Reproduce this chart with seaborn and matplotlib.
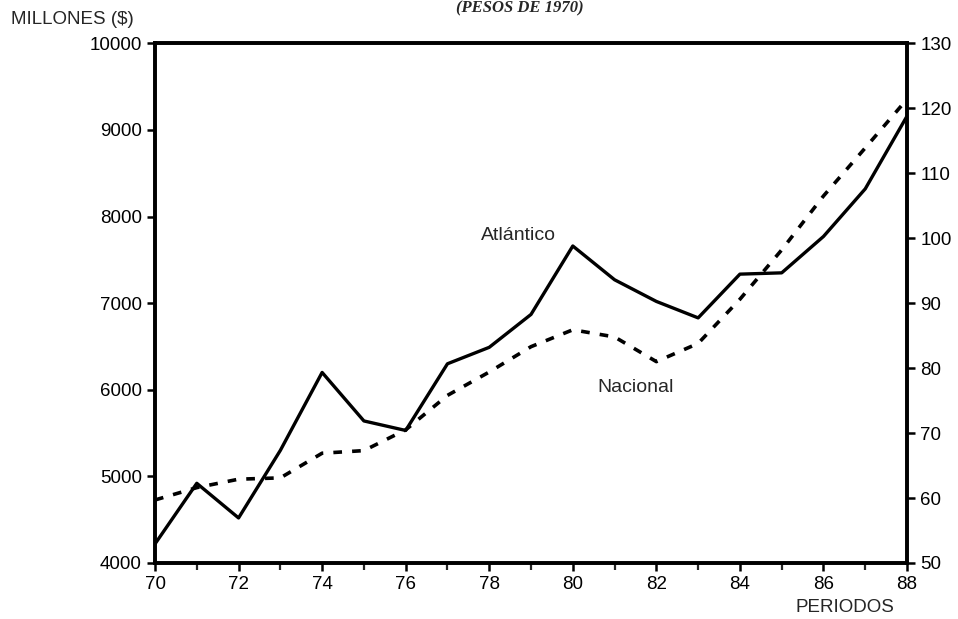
import numpy as np
import pandas as pd
import matplotlib
matplotlib.use("Agg")
import matplotlib.pyplot as plt
from matplotlib.ticker import MultipleLocator
import seaborn as sns

# Data (annual, 1970-1988)
periodos = list(range(70, 89))
atlantico = [4220, 4920, 4520, 5300, 6200, 5640, 5530, 6300, 6490, 6870,
             7660, 7270, 7020, 6830, 7335, 7350, 7770, 8320, 9160]   # millones ($), eje izquierdo
nacional = [59.7, 61.6, 62.9, 63.1, 66.9, 67.3, 70.5, 75.8, 79.4, 83.3,
            85.9, 84.8, 81.0, 83.8, 90.6, 98.2, 106.5, 113.9, 121.4]  # eje derecho

left_ticks = [4000, 5000, 6000, 7000, 8000, 9000, 10000]
right_ticks = [50, 60, 70, 80, 90, 100, 110, 120, 130]
x_ticks = [70, 72, 74, 76, 78, 80, 82, 84, 86, 88]

df = pd.DataFrame({"periodo": periodos, "atlantico": atlantico, "nacional": nacional})

sns.set_style("ticks")
plt.rcParams["font.family"] = ["Liberation Sans", "DejaVu Sans"]

fig = plt.figure(figsize=(9.58, 6.19), dpi=100)
ax = fig.add_axes([0.1618, 0.0905, 0.785, 0.8395])

sns.lineplot(data=df, x="periodo", y="atlantico", ax=ax, color="black", linewidth=2.4)
ax.set_xlim(70, 88)
ax.set_ylim(4000, 10000)
ax.set_yticks(left_ticks)
ax.set_xticks(x_ticks)
ax.xaxis.set_minor_locator(MultipleLocator(1))
ax.set_xlabel("")
ax.set_ylabel("")

ax2 = ax.twinx()
sns.lineplot(data=df, x="periodo", y="nacional", ax=ax2, color="black",
             linewidth=2.6, linestyle=(0, (2.4, 2.8)))
ax2.set_ylim(50, 130)
ax2.set_yticks(right_ticks)
ax2.set_ylabel("")

for a in (ax, ax2):
    for s in a.spines.values():
        s.set_visible(True)
        s.set_linewidth(2.6)
        s.set_color("black")
    a.tick_params(axis="both", which="major", labelsize=13.5, width=1.8, length=6,
                  direction="out", colors="black")
    a.tick_params(axis="x", which="minor", width=1.6, length=5, direction="out")
ax2.tick_params(axis="x", which="both", bottom=False, top=False, labelbottom=False)

ax.text(78.7, 7780, "Atlántico", fontsize=14, ha="center", va="center")
ax.text(81.5, 6030, "Nacional", fontsize=14, ha="center", va="center")

fig.text(0.012, 1 - 20 / 619, "MILLONES ($)", fontsize=13.5, ha="left", va="center")
fig.text(0.934, 1 - 607 / 619, "PERIODOS", fontsize=13.5, ha="right", va="center")
fig.text(0.543, 0.999, "(PESOS DE 1970)", fontsize=12, ha="center", va="top",
         family=["Liberation Serif", "DejaVu Serif"], fontweight="bold", fontstyle="italic")

fig.savefig("out.png", dpi=100)
